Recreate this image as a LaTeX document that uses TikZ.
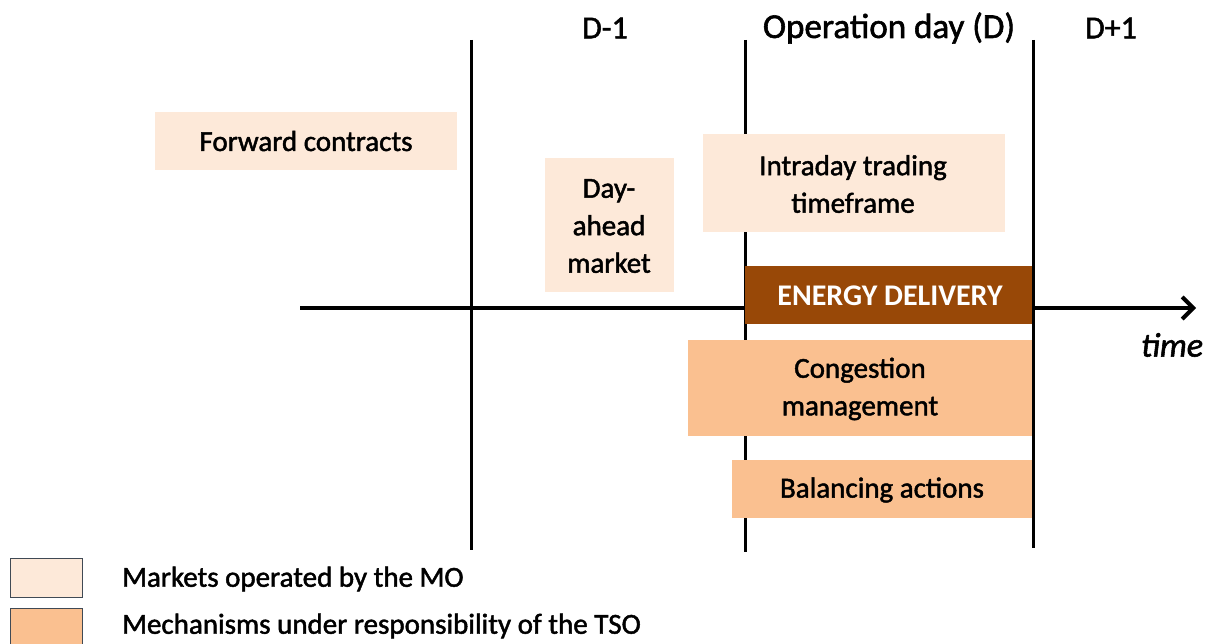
\documentclass[tikz,border=0pt]{standalone}
\usepackage{fontspec}
\setmainfont{Carlito}[RawFeature={embolden=1.6}]
\newfontfamily\labelbold{Carlito}[UprightFont=*-Bold]
\usetikzlibrary{arrows.meta}
\definecolor{mopeach}{HTML}{FDE9D9}
\definecolor{tsoorange}{HTML}{FAC090}
\definecolor{deliverybrown}{HTML}{984807}
\definecolor{legendedge}{HTML}{404a55}
\begin{document}
\begin{tikzpicture}[x=1pt,y=-1pt,
  txt/.style={font=\fontsize{29}{37.5}\selectfont, text=black, align=center, inner sep=0pt},
  head/.style={font=\fontsize{32}{38}\selectfont, text=black, inner sep=0pt},
  mobox/.style={fill=mopeach, draw=none},
  tsobox/.style={fill=tsoorange, draw=none},
  dayline/.style={line width=3pt, black},
  axis/.style={line width=4pt, black, -{Straight Barb[length=11pt,width=22pt,line width=4pt]}}
]
\useasboundingbox (0,0) rectangle (1211,644);

% day boundaries
\coordinate (l1t) at (471,40);  \coordinate (l1b) at (471,550);
\coordinate (l2t) at (745,40);  \coordinate (l2b) at (745,552);
\coordinate (l3t) at (1033,40); \coordinate (l3b) at (1033,548);
\draw[dayline] (l1t) -- (l1b);
\draw[dayline] (l2t) -- (l2b);
\draw[dayline] (l3t) -- (l3b);

% time axis
\coordinate (axstart) at (300,308);
\coordinate (axend) at (1196,308);
\draw[axis] (axstart) -- (axend);
\node[txt, font=\fontsize{34}{40}\selectfont\itshape] (time) at (1172,345) {time};

% day headers
\node[head] (dm1) at (605,28) {D-1};
\node[head, font=\fontsize{35}{40}\selectfont] (dday) at (889,28) {Operation day (D)};
\node[head] (dp1) at (1111,28) {D+1};

% market boxes
\fill[mobox] (155,112) rectangle (457,170);
\node[txt] (fwd) at (306,141) {Forward contracts};
\fill[mobox] (545,158) rectangle (674,292);
\node[txt] (dam) at (609,226) {Day-\\ahead\\market};
\fill[mobox] (703,134) rectangle (1005,232);
\node[txt] (intra) at (853,184) {Intraday trading\\timeframe};

% delivery
\fill[deliverybrown] (745,266) rectangle (1033,324);
\node[txt, text=white, font=\fontsize{30}{34}\selectfont\labelbold] (deliv) at (890,296) {ENERGY DELIVERY};

% TSO mechanisms
\fill[tsobox] (688,340) rectangle (1033,436);
\node[txt] (cong) at (860,389) {Congestion\\management};
\fill[tsobox] (732,460) rectangle (1033,518);
\node[txt] (bal) at (882,490) {Balancing actions};
\draw[dayline] (1033,266) -- (1033,548);

% legend
\draw[fill=mopeach, draw=legendedge, line width=1pt] (10,558) rectangle (82,597);
\node[txt, anchor=west] (lg1) at (122,579) {Markets operated by the MO};
\draw[fill=tsoorange, draw=legendedge, line width=1pt] (10,608) rectangle (82,650);
\node[txt, anchor=west] (lg2) at (122,626) {Mechanisms under responsibility of the TSO};
\end{tikzpicture}
\end{document}
